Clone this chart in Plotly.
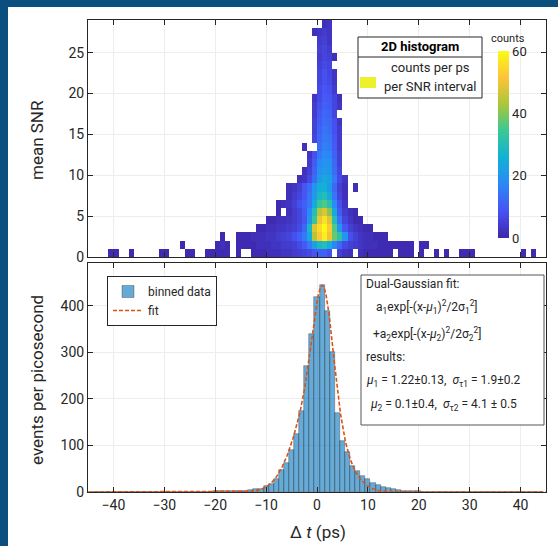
import numpy as np
import plotly.graph_objects as go

# ---------------- figure geometry (pixels) ----------------
W, H = 558, 546
ML, MR, MT, MB = 88, 12, 20, 54
PW, PH = W - ML - MR, H - MT - MB


def px(x):
    return (x - ML) / PW


def py(y):
    return (H - MB - y) / PH


# ---------------- 2D histogram: counts per 1 ps x 1 SNR cell ----------------
# one entry per SNR row r (cells cover [r, r+1)): lower edge of first Δt bin (ps), counts
snr_rows = [
    (-20, [1, 1, 1, 0, 1, 0, 0, 1, 1, 1, 2, 2, 2, 3, 3, 4, 5, 6, 7, 9, 11, 11, 8, 0, 5, 3, 2, 0,
           2, 1, 1, 1, 1, 1, 1, 0, 1, 1, 1, 0, 1]),                                   # 0
    (-20, [1, 2, 1, 0, 1, 1, 1, 1, 2, 2, 2, 3, 3, 4, 4, 5, 7, 10, 15, 22, 28, 30, 25, 17, 12, 7,
           5, 4, 3, 2, 2, 2, 1, 1, 1, 1, 1, 1, 1, 0, 1, 1]),                          # 1
    (-19, [1, 0, 0, 1, 1, 1, 2, 2, 2, 3, 3, 4, 5, 6, 8, 11, 15, 24, 44, 52, 58, 50, 38, 32, 20,
           8, 5, 3, 2, 2, 1, 1, 1]),                                                   # 2
    (-12, [1, 1, 2, 2, 3, 3, 4, 5, 7, 12, 28, 48, 55, 60, 52, 36, 20, 9, 5, 3, 2, 1, 1]),  # 3
    (-10, [1, 1, 2, 2, 3, 4, 6, 9, 20, 34, 50, 56, 48, 30, 14, 6, 3, 1, 1]),         # 4
    (-8, [1, 0, 2, 4, 6, 10, 18, 30, 44, 48, 40, 24, 10, 4, 2, 1]),                   # 5
    (-8, [1, 2, 3, 5, 8, 11, 15, 24, 34, 36, 31, 18, 8, 3]),                          # 6
    (-6, [2, 4, 6, 9, 14, 21, 28, 30, 24, 14, 6, 2]),                                 # 7
    (-6, [2, 3, 5, 9, 13, 20, 25, 26, 21, 12, 5, 2, 0, 2]),                           # 8
    (-4, [2, 3, 7, 13, 21, 24, 22, 15, 7, 3]),                                        # 9
    (-3, [2, 5, 11, 19, 21, 20, 13, 6]),                                              # 10
    (-2, [4, 10, 17, 20, 19, 12, 5]),                                                 # 11
    (-2, [3, 8, 15, 18, 17, 11, 5]),                                                  # 12
    (-3, [2, 0, 0, 13, 16, 15, 10, 4]),                                               # 13
    (-1, [6, 12, 15, 14, 9, 4]),                                                      # 14
    (-1, [5, 11, 14, 13, 8, 4]),                                                      # 15
    (-1, [5, 10, 13, 12, 8, 3]),                                                      # 16
    (-1, [4, 9, 12, 11, 6]),                                                          # 17
    (-1, [4, 8, 11, 10, 6, 3]),                                                       # 18
    (-1, [3, 7, 10, 9, 6, 2]),                                                        # 19
    (0, [7, 9, 8, 4]),                                                                # 20
    (0, [6, 8, 7, 3]),                                                                # 21
    (0, [6, 8, 6, 3]),                                                                # 22
    (0, [5, 7, 6]),                                                                   # 23
    (0, [4, 6, 5, 2]),                                                                # 24
    (0, [5, 6, 4]),                                                                   # 25
    (0, [4, 5, 3]),                                                                   # 26
    (-1, [2, 3, 4, 3]),                                                               # 27
    (1, [2, 3]),                                                                      # 28
]

# isolated cells far from the core: (Δt bin lower edge, SNR row, counts)
sparse_cells = [
    (-41, 0, 1), (-40, 0, 1), (-37, 0, 1), (-31, 0, 1), (-30, 0, 1), (-27, 1, 1),
    (-26, 0, 1), (-25, 0, 1), (-22, 0, 1), (-21, 0, 1),
    (23, 0, 1), (25, 0, 1), (28, 0, 1), (29, 0, 1), (30, 0, 1), (40, 0, 1), (42, 0, 1),
]

# ---------------- 1D histogram: events per picosecond (bins centred on integers) ----------------
dt_centers = list(range(-44, 45))
events = [
    0, 0, 0, 1, 1, 0, 0, 1, 0, 0,                 # -44 .. -35
    0, 0, 0, 1, 1, 0, 0, 1, 1, 1,                 # -34 .. -25
    0, 0, 1, 1, 2, 3, 2, 2, 3, 3,                 # -24 .. -15
    3, 4, 6, 7, 12, 18, 28, 48, 62, 90,           # -14 .. -5
    125, 175, 270, 340, 420, 445, 388, 300, 170, 110,  # -4 .. 5
    85, 55, 45, 35, 27, 20, 14, 10, 8, 7,         # 6 .. 15
    5, 3, 3, 2, 2, 1, 1, 1, 0, 1,                 # 16 .. 25
    0, 0, 1, 1, 1, 0, 0, 0, 0, 0,                 # 26 .. 35
    0, 0, 0, 0, 1, 0, 1, 0, 0,                    # 36 .. 44
]

# dual-Gaussian fit parameters
mu1, sig1, amp1 = 1.22, 1.9, 225.0
mu2, sig2, amp2 = 0.1, 4.1, 226.0

# ---------------- assemble heatmap grid ----------------
x_edges = np.arange(-45, 45)          # lower edges of 1 ps bins
n_rows = len(snr_rows)
z = np.full((n_rows, len(x_edges)), np.nan)
for r, (start, counts) in enumerate(snr_rows):
    for i, c in enumerate(counts):
        if c > 0:
            z[r, start + 45 + i] = c
for xb, r, c in sparse_cells:
    z[r, xb + 45] = c
z_list = [[None if np.isnan(v) else float(v) for v in row] for row in z]

parula = [
    [0 / 7, "#3e26a8"], [1 / 7, "#4752f4"], [2 / 7, "#2d87f7"], [3 / 7, "#11b1d6"],
    [4 / 7, "#37c897"], [5 / 7, "#abc739"], [6 / 7, "#fec338"], [7 / 7, "#f9fb15"],
]

INK = "#262626"
FONT = "Roboto, 'DejaVu Sans', sans-serif"

fig = go.Figure()

fig.add_trace(go.Heatmap(
    x=x_edges + 0.5, y=np.arange(n_rows) + 0.5, z=z_list,
    colorscale=parula, zmin=0, zmax=60, xaxis="x", yaxis="y",
    showlegend=False, hoverongaps=False,
    colorbar=dict(
        x=px(498), xanchor="left", xpad=0, ypad=0,
        y=py(238), yanchor="bottom", len=(238 - 51) / PH, lenmode="fraction",
        thickness=11, thicknessmode="pixels", outlinewidth=0,
        tickvals=[0, 20, 40, 60], ticks="", tickfont=dict(size=13, color=INK, family=FONT),
    ),
))

fig.add_trace(go.Bar(
    x=dt_centers, y=events, xaxis="x2", yaxis="y2", name="binned data",
    marker=dict(color="rgba(0,114,189,0.6)", line=dict(color="rgba(30,30,30,0.55)", width=0.6)),
    width=1.0,
))

xf = np.linspace(-45, 45, 1801)
yf = (amp1 * np.exp(-(xf - mu1) ** 2 / (2 * sig1 ** 2))
      + amp2 * np.exp(-(xf - mu2) ** 2 / (2 * sig2 ** 2)))
fig.add_trace(go.Scatter(
    x=xf, y=yf, xaxis="x2", yaxis="y2", mode="lines", name="fit",
    line=dict(color="#d95319", width=1.6, dash="4px,2px"),
))

axis_common = dict(
    showline=True, linecolor=INK, linewidth=1, mirror="ticks",
    ticks="inside", ticklen=5, tickcolor=INK, tickwidth=1,
    showgrid=True, gridcolor="#ededed", gridwidth=1, zeroline=False,
    tickfont=dict(size=14, color=INK, family=FONT),
)

fig.update_layout(
    width=W, height=H,
    margin=dict(l=ML, r=MR, t=MT, b=MB),
    paper_bgcolor="white", plot_bgcolor="white",
    font=dict(family=FONT, color=INK),
    bargap=0,
    xaxis=dict(domain=[0, 1], anchor="y", range=[-45, 45], tickvals=list(range(-40, 41, 10)),
               showticklabels=False, matches="x2", **axis_common),
    yaxis=dict(domain=[py(257), 1], anchor="x", range=[0, 29], tickvals=[0, 5, 10, 15, 20, 25],
               **axis_common),
    xaxis2=dict(domain=[0, 1], anchor="y2", range=[-45, 45], tickvals=list(range(-40, 41, 10)),
                ticktext=["\u221240", "\u221230", "\u221220", "\u221210", "0", "10", "20", "30", "40"],
                **axis_common),
    yaxis2=dict(domain=[0, py(263)], anchor="x2", range=[0, 492], tickvals=[0, 100, 200, 300, 400],
                **axis_common),
    legend=dict(
        x=px(107), y=py(276), xanchor="left", yanchor="top",
        bgcolor="white", bordercolor=INK, borderwidth=1,
        font=dict(size=12, color=INK, family=FONT), tracegroupgap=0, itemwidth=30,
    ),
)

shapes = []
annotations = []

# slide frame (left and top bands)
NAVY = "#0b4f7f"
shapes.append(dict(type="rect", xref="paper", yref="paper", x0=px(0), x1=px(8), y0=py(H), y1=py(0),
                   fillcolor=NAVY, line=dict(width=0), layer="above"))
shapes.append(dict(type="rect", xref="paper", yref="paper", x0=px(0), x1=px(W), y0=py(7), y1=py(0),
                   fillcolor=NAVY, line=dict(width=0), layer="above"))

# colour bar caption
annotations.append(dict(text="counts", xref="paper", yref="paper", x=px(508), y=py(38),
                        xanchor="center", yanchor="middle", showarrow=False,
                        font=dict(size=11, color=INK, family=FONT)))

# key box for the 2D histogram
shapes.append(dict(type="rect", xref="paper", yref="paper", x0=px(358), x1=px(482), y0=py(98), y1=py(37),
                   fillcolor="white", line=dict(color=INK, width=1)))
shapes.append(dict(type="line", xref="paper", yref="paper", x0=px(358), x1=px(482), y0=py(57), y1=py(57),
                   line=dict(color=INK, width=1)))
shapes.append(dict(type="rect", xref="paper", yref="paper", x0=px(360), x1=px(376), y0=py(88), y1=py(77),
                   fillcolor="#eef02e", line=dict(width=0)))
annotations.append(dict(text="<b>2D histogram</b>", xref="paper", yref="paper", x=px(420), y=py(47),
                        xanchor="center", yanchor="middle", showarrow=False,
                        font=dict(size=13, color="black", family=FONT)))
annotations.append(dict(text="counts per ps", xref="paper", yref="paper", x=px(430), y=py(68),
                        xanchor="center", yanchor="middle", showarrow=False,
                        font=dict(size=13, color=INK, family=FONT)))
annotations.append(dict(text="per SNR interval", xref="paper", yref="paper", x=px(479), y=py(87),
                        xanchor="right", yanchor="middle", showarrow=False,
                        font=dict(size=13, color=INK, family=FONT)))

# fit results box
shapes.append(dict(type="rect", xref="paper", yref="paper", x0=px(361), x1=px(544), y0=py(425), y1=py(275),
                   fillcolor="white", line=dict(color="#555555", width=1)))
fit_lines = [
    (364, 284, "Dual-Gaussian fit:"),
    (374, 307, "a<sub>1</sub>exp[-(x-<i>\u03bc</i><sub>1</sub>)<sup>2</sup>/2\u03c3<sub>1</sub><sup>2</sup>]"),
    (371, 334, "+a<sub>2</sub>exp[-(x-<i>\u03bc</i><sub>2</sub>)<sup>2</sup>/2\u03c3<sub>2</sub><sup>2</sup>]"),
    (364, 357, "results:"),
    (364, 381, "<i>\u03bc</i><sub>1</sub> = 1.22\u00b10.13,  <i>\u03c3</i><sub>\u03c41</sub> = 1.9\u00b10.2"),
    (368, 405, "<i>\u03bc</i><sub>2</sub> = 0.1\u00b10.4,  <i>\u03c3</i><sub>\u03c42</sub> = 4.1 \u00b1 0.5"),
]
for x0, y0, txt in fit_lines:
    annotations.append(dict(text=txt, xref="paper", yref="paper", x=px(x0), y=py(y0),
                            xanchor="left", yanchor="middle", showarrow=False,
                            font=dict(size=12, color=INK, family=FONT)))

# axis titles
annotations.append(dict(text="mean SNR", xref="paper", yref="paper", x=px(37), y=py(140),
                        textangle=-90, xanchor="center", yanchor="middle", showarrow=False,
                        font=dict(size=17, color=INK, family=FONT)))
annotations.append(dict(text="events per picosecond", xref="paper", yref="paper", x=px(37), y=py(380),
                        textangle=-90, xanchor="center", yanchor="middle", showarrow=False,
                        font=dict(size=17, color=INK, family=FONT)))
annotations.append(dict(text="\u0394 <i>t</i> (ps)", xref="paper", yref="paper", x=px(318), y=py(532),
                        xanchor="center", yanchor="middle", showarrow=False,
                        font=dict(size=17, color=INK, family=FONT)))

fig.update_layout(shapes=shapes, annotations=annotations)

fig.write_html("out.html")
